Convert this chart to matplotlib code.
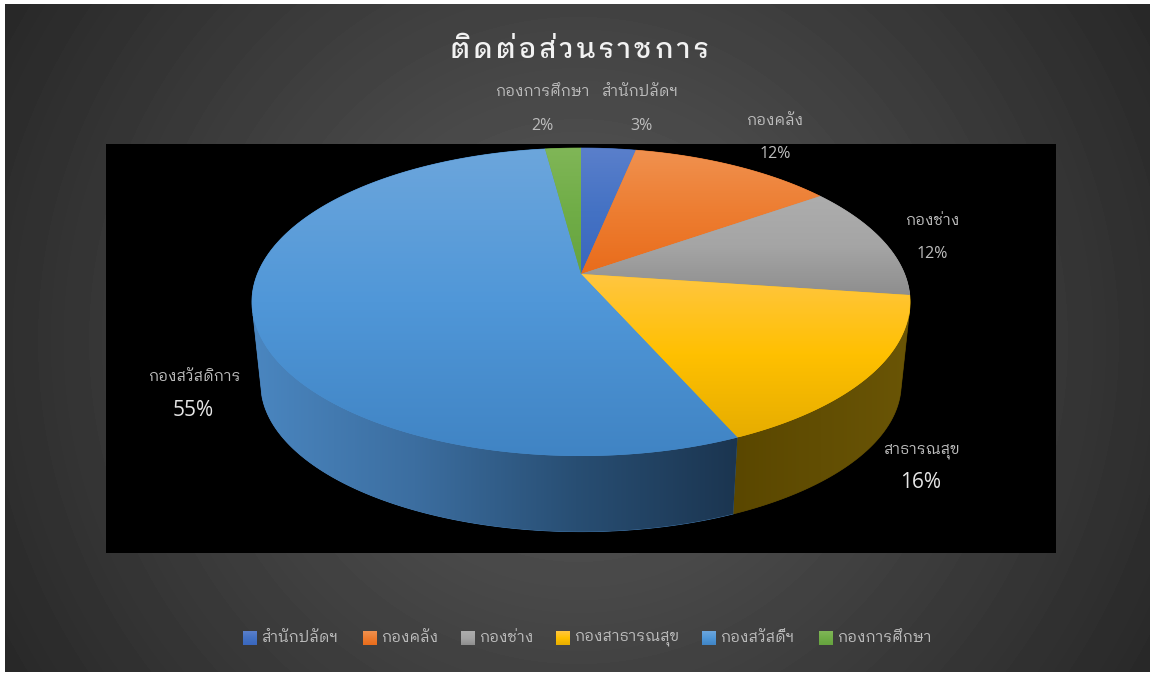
import numpy as np
import matplotlib
matplotlib.use('Agg')
import matplotlib.pyplot as plt
from matplotlib.colors import LinearSegmentedColormap
from matplotlib.patches import Polygon, Rectangle

plt.rcParams['font.family'] = ['IBM Plex Sans Thai Looped', 'DejaVu Sans']

# hair spaces stand in for the wide letter spacing of the title
title = '\u200a'.join(['ติ', 'ด', 'ต่', 'อ', 'ส่', 'ว', 'น', 'ร', 'า', 'ช', 'ก', 'า', 'ร'])
slice_names = ['สำนักปลัดฯ', 'กองคลัง', 'กองช่าง', 'สาธารณสุข', 'กองสวัสดิการ', 'กองการศึกษา']
legend_names = ['สำนักปลัดฯ', 'กองคลัง', 'กองช่าง', 'กองสาธารณสุข', 'กองสวัสดิ์ฯ', 'กองการศึกษา']
values = [3.2, 12.0, 12.0, 16.2, 54.51, 2.09]

top_colors = [
    ['#5A7FCB', '#4472C4', '#3A67BE'],
    ['#F0914F', '#ED7D31', '#E96C1B'],
    ['#ADADAD', '#A5A5A5', '#8E8E8E'],
    ['#FFC642', '#FFC000', '#E6AD00'],
    ['#6CA6DC', '#5097D8', '#4084C4'],
    ['#80B657', '#70AD47', '#66A33F'],
]
# stops run left to right across the wall
wall_colors = {
    3: ['#5A4700', '#6A5506'],
    4: ['#4A86C0', '#3C6EA0', '#284E73', '#1B3550'],
}

label_pos = [(640, 92, 641, 126), (775, 121, 775, 154), (932, 221, 932, 254),
             (921, 451, 921, 482), (194, 377, 193, 410), (542, 92, 542, 126)]
legend_x = [243, 363, 461, 556, 702, 819]


def rim(t_deg, lower=False):
    # perspective view of the pie's round edge, angle clockwise from 12 o'clock
    t = np.radians(t_deg)
    x, y = np.sin(t), np.cos(t)
    w = 1 + 0.1818 * y
    px, py = 323.6 * x / w, -148.9 * y / w
    if lower:
        return 581 + 0.973 * px, 357 + 0.96 * py
    return 581 + px, 274 + py


def gradient(ax, colors, box, clip, horizontal=False):
    cmap = LinearSegmentedColormap.from_list('g', colors)
    g = np.linspace(0, 1, 256)
    g = g.reshape(1, -1) if horizontal else g.reshape(-1, 1)
    im = ax.imshow(g, cmap=cmap, extent=box, aspect='auto', origin='upper', zorder=3, vmin=0, vmax=1)
    im.set_clip_path(clip)


fig = plt.figure(figsize=(11.55, 6.75), dpi=100, facecolor='white')
ax = fig.add_axes([0, 0, 1, 1])
ax.set_axis_off()

# chart background
yy, xx = np.mgrid[4:672, 5:1150]
r = np.hypot(xx - 578, yy - 340) / 666
ax.imshow(92 - 52 * r, cmap='gray', vmin=0, vmax=255, extent=(5, 1150, 672, 4), aspect='auto', zorder=0)
ax.add_patch(Rectangle((106, 144), 950, 409, fc='black', ec='none', zorder=1))

edges = np.concatenate([[0], np.cumsum(values)]) / sum(values) * 360

# side walls
for i, cols in wall_colors.items():
    a, b = max(edges[i], 103), min(edges[i + 1], 255)
    t = np.linspace(a, b, 200)
    ux, uy = rim(t)
    lx, ly = rim(t, lower=True)
    pts = np.column_stack([np.r_[ux, lx[::-1]], np.r_[uy, ly[::-1]]])
    p = Polygon(pts, fc=cols[0], ec=cols[0], lw=0.5, zorder=2)
    ax.add_patch(p)
    gradient(ax, cols, (pts[:, 0].min(), pts[:, 0].max(), pts[:, 1].max(), pts[:, 1].min()), p, horizontal=True)

# top faces
for i in range(len(values)):
    t = np.linspace(edges[i], edges[i + 1], 200)
    ux, uy = rim(t)
    pts = np.column_stack([np.r_[581, ux], np.r_[274, uy]])
    p = Polygon(pts, fc=top_colors[i][1], ec=top_colors[i][1], lw=0.5, zorder=2.5)
    ax.add_patch(p)
    gradient(ax, top_colors[i], (pts[:, 0].min(), pts[:, 0].max(), pts[:, 1].max(), pts[:, 1].min()), p)

# labels
for i, (name, pos) in enumerate(zip(slice_names, label_pos)):
    big = i in (3, 4)
    ax.text(pos[0], pos[1], name, color='#BDBDBD', fontsize=11, ha='center', va='center', zorder=5)
    ax.text(pos[2], pos[3], '%.0f%%' % (values[i] / sum(values) * 100), color='#E6E6E6' if big else '#BDBDBD',
            fontsize=15 if big else 11.5, ha='center', va='center', zorder=5, family=['Open Sans', 'DejaVu Sans'])

ax.text(580, 51, title, color='#F2F2F2', fontsize=20, fontweight='medium', ha='center', va='center', zorder=5)

# legend
for i, name in enumerate(legend_names):
    box = (legend_x[i], legend_x[i] + 14, 645, 631)
    s = Rectangle((legend_x[i], 631), 14, 14, fc='none', ec='none', zorder=4)
    ax.add_patch(s)
    gradient(ax, top_colors[i], box, s)
    ax.text(legend_x[i] + 18, 638, name, color='#BDBDBD', fontsize=11, ha='left', va='center', zorder=5)

ax.set_xlim(0, 1155)
ax.set_ylim(675, 0)
fig.savefig('out.png', dpi=100)
